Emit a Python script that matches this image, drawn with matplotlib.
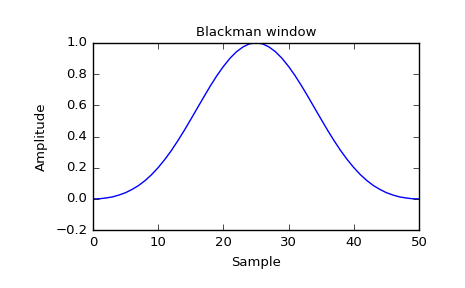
import numpy as np
import matplotlib
matplotlib.use("Agg")
import matplotlib.pyplot as plt

# Blackman window, 51 samples (symmetric about 25)
half = [0.000, 0.001, 0.006, 0.013, 0.025, 0.040, 0.061, 0.086, 0.118, 0.156,
        0.201, 0.252, 0.309, 0.372, 0.439, 0.510, 0.582, 0.654, 0.724, 0.790,
        0.849, 0.901, 0.943, 0.974, 0.994, 1.000]
window = half + half[-2::-1]
samples = list(range(len(window)))

plt.style.use("classic")
plt.rcParams["font.size"] = 9.5

fig = plt.figure(figsize=(4.65, 2.88), dpi=100)
ax = fig.add_axes([0.2, 0.201, 0.701, 0.650])
ax.plot(samples, window, color="blue", linewidth=1)
ax.set_xlim(0, 50)
ax.set_ylim(-0.2, 1.0)
ax.set_title("Blackman window", fontsize=9.5)
ax.set_xlabel("Sample")
ax.set_ylabel("Amplitude")

fig.savefig("out.png", dpi=100)
